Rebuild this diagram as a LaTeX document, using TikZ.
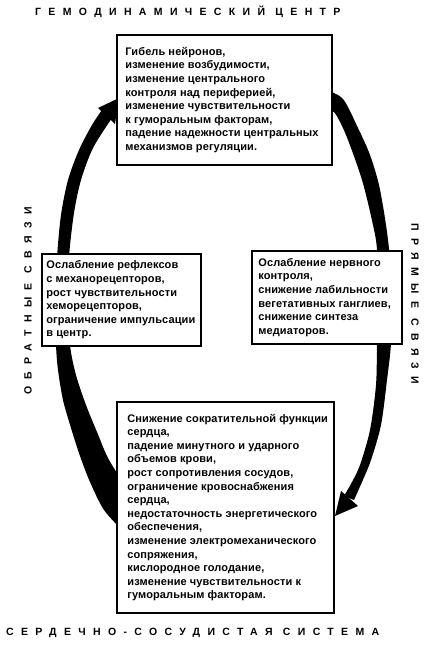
\documentclass[tikz,border=0pt]{standalone}
\usepackage{fontspec}
\setmainfont{Liberation Sans}
\newfontfamily\titlefont[LetterSpace=70]{Liberation Sans}
\newfontfamily\boxfont[LetterSpace=1]{Liberation Sans}
\begin{document}
\begin{tikzpicture}[x=1pt,y=-1pt,
  framebox/.style={draw, line width=1.6pt, fill=white, inner sep=0pt},
  boxtext/.style={inner sep=0pt, align=left, anchor=west,
    font=\boxfont\bfseries\fontsize{11}{13.6}\selectfont},
  ttl/.style={inner sep=0pt, font=\titlefont\bfseries\fontsize{10.5}{12}\selectfont},
  band/.style={fill=black}]
\useasboundingbox (0,0) rectangle (426,650);

% titles
\node[ttl, anchor=west] (tophead) at (35,12) {ГЕМОДИНАМИЧЕСКИЙ ЦЕНТР};
\node[ttl, anchor=west] (bothead) at (6,633) {СЕРДЕЧНО-СОСУДИСТАЯ СИСТЕМА};
\node[ttl, rotate=90] (lefthead) at (28,301) {ОБРАТНЫЕ СВЯЗИ};
\node[ttl, rotate=-90] (righthead) at (415,304) {ПРЯМЫЕ СВЯЗИ};

% left (feedback) band
\fill[band] plot[smooth] coordinates {(124,532) (104,510) (90,482) (80,456) (71,428) (63,400) (58,370) (56,345) (55,300) (57,257) (61,215) (68,180) (79,150) (92,125) (102,110)}
  -- plot[smooth] coordinates {(112,118) (93,148) (81,180) (74,213) (69,257) (68,300) (70,345) (76,375) (86,405) (97,432) (108,458) (124,484)} -- cycle;
\fill[band] (98,108) -- (119,98) -- (115,124) -- cycle;

% right (direct) band
\fill[band] plot[smooth] coordinates {(326,90) (343,99) (358,128) (370,155) (379,185) (386,225) (390,260) (391,300) (391,343) (387,380) (381,425) (371,460) (362,482) (354,500)}
  -- plot[smooth] coordinates {(344,496) (352,482) (360,465) (370,430) (376,385) (377,343) (378,300) (377,250) (373,225) (362,180) (346,135) (334,112) (326,114)} -- cycle;
\fill[band] (341,491) -- (358,506) -- (335,516) -- cycle;

% boxes
\node[framebox, minimum width=215, minimum height=130] (top) at (224.5,100) {};
\node[boxtext] (toptext) at ([xshift=9pt]top.west) {Гибель нейронов,\\изменение возбудимости,\\изменение центрального\\контроля над периферией,\\изменение чувствительности\\к гуморальным факторам,\\падение надежности центральных\\механизмов регуляции.};

\node[framebox, minimum width=159, minimum height=92] (left) at (121.5,300) {};
\node[boxtext] (lefttext) at ([xshift=5pt]left.west) {Ослабление рефлексов\\с механорецепторов,\\рост чувствительности\\хеморецепторов,\\ограничение импульсации\\в центр.};

\node[framebox, minimum width=150, minimum height=93] (right) at (327,297.5) {};
\node[boxtext] (righttext) at ([xshift=7pt]right.west) {Ослабление нервного\\контроля,\\снижение лабильности\\вегетативных ганглиев,\\снижение синтеза\\медиаторов.};

\node[framebox, minimum width=217, minimum height=211] (bottom) at (225.5,507.5) {};
\node[boxtext] (bottomtext) at ([xshift=11pt]bottom.west) {Снижение сократительной функции\\сердца,\\падение минутного и ударного\\объемов крови,\\рост сопротивления сосудов,\\ограничение кровоснабжения\\сердца,\\недостаточность энергетического\\обеспечения,\\изменение электромеханического\\сопряжения,\\кислородное голодание,\\изменение чувствительности к\\гуморальным факторам.};
\end{tikzpicture}
\end{document}
